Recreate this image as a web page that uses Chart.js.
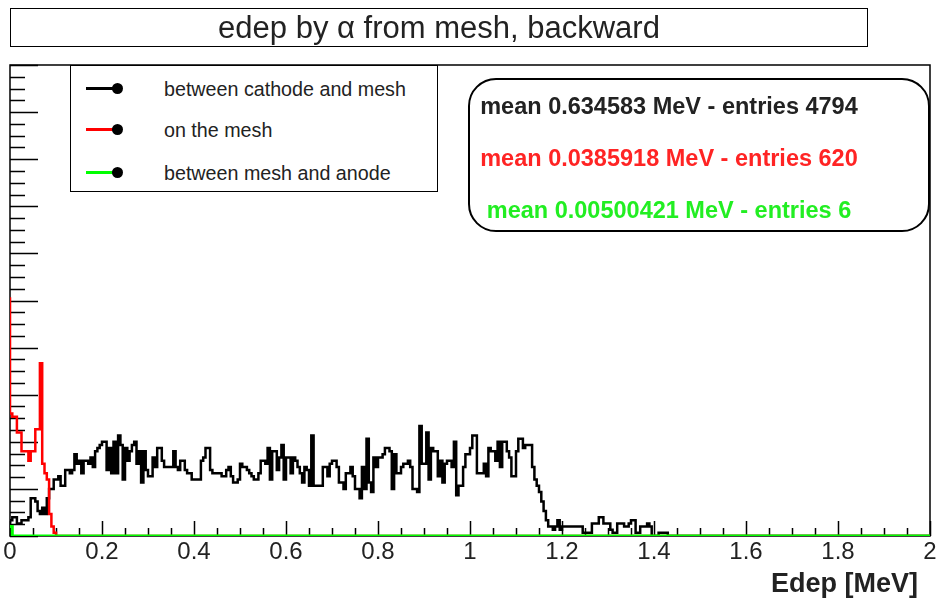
<!DOCTYPE html>
<html>
<head>
<meta charset="utf-8">
<script src="https://cdn.jsdelivr.net/npm/chart.js@4"></script>
<style>
  body { margin: 0; background: #fff; }
  #wrap { position: relative; width: 939px; height: 600px; font-family: "Liberation Sans", Arial, Helvetica, sans-serif; }
  canvas { position: absolute; left: 0; top: 0; }
  .titlebox { position: absolute; left: 10px; top: 8px; width: 856px; height: 37px; border: 1px solid #000;
    text-align: center; line-height: 37px; font-size: 31px; color: #222; }
  .legend { position: absolute; left: 70px; top: 65px; width: 366px; height: 125px; border: 1.5px solid #000; background: #fff; }
  .legend .row { position: absolute; left: 0; height: 20px; width: 100%; }
  .legend .ln { position: absolute; left: 15px; top: 8px; width: 32px; height: 3px; }
  .legend .mk { position: absolute; left: 41px; top: 4px; width: 11px; height: 11px; border-radius: 50%; background: #000; }
  .legend .tx { position: absolute; left: 93px; top: 0; line-height: 20px; font-size: 19.7px; color: #222; white-space: nowrap; }
  .stats { position: absolute; left: 468px; top: 78px; width: 458px; height: 150px; border: 2px solid #000; border-radius: 28px; background: #fff; }
  .stats .tx { position: absolute; left: 0; width: 398px; text-align: center; line-height: 52px; font-size: 23.5px; font-weight: bold; white-space: nowrap; }
  .xtitle { position: absolute; right: 21px; top: 568px; line-height: 30px; font-size: 27px; font-weight: bold; color: #222; }
</style>
</head>
<body>
<div id="wrap">
  <canvas id="c" width="939" height="600"></canvas>
  <div class="titlebox" id="title"></div>
  <div class="legend" id="legend"></div>
  <div class="stats" id="stats"></div>
  <div class="xtitle" id="xtitle"></div>
</div>
<script>
// ---- histogram setup: 400 bins of 0.005 MeV from 0 to 2 MeV
const binWidth = 0.005;
const nBins = 400;

// counts per bin (bins past the end of each list are empty)
const cathodeMesh = [
  4, 5, 6, 6, 4, 4, 5, 5, 5, 6, 12, 12, 11, 8, 7, 9, 7, 12, 15, 15,
  18, 18, 19, 16, 16, 21, 21, 20, 21, 26, 23, 24, 20, 24, 24, 23, 25, 22, 27, 28,
  29, 30,
  30, 21, 28, 20, 30, 20, 32, 29, 18, 28, 24, 27, 29, 30, 23, 27, 17, 27, 21, 19,
  19, 25, 22, 28, 28, 24, 22, 22, 22, 22, 27, 22, 21, 24, 24, 21, 20, 20, 18, 18,
  18, 18, 24, 25, 28, 28, 21, 20, 20, 20,
  20, 19, 19, 21, 22, 19, 17, 17, 18, 23, 22, 22, 21, 20, 19, 18, 18, 20, 24, 24,
  23, 28, 18, 27, 27, 21, 25, 29, 18, 25, 25, 20, 25, 24, 22, 20, 17, 22, 21, 16,
  32, 16, 16, 16, 16, 22, 22,
  19, 23, 24, 24, 22, 17, 17, 15, 20, 20, 22, 19, 15, 15, 12, 22, 15, 31, 17, 14,
  25, 22, 25, 25, 26, 28, 28, 27, 15, 26, 20, 20, 22, 23, 23, 24, 22, 15, 15, 14,
  35, 23, 23, 33, 18, 28, 27,
  27, 19, 24, 17, 23, 24, 24, 22, 30, 13, 16, 16, 22, 26, 26, 28, 32, 32, 20, 20,
  20, 23, 19, 28, 27, 27, 24, 30, 22, 30, 30, 27, 25, 19, 19, 27, 31, 31, 28, 29,
  29, 29, 22, 18, 16, 14, 11, 8, 5,
  3, 3, 2, 3, 5, 2, 3, 3, 3, 3, 3, 3, 3, 3, 3, 1, 1, 1, 1, 4,
  4, 4, 6, 6, 4, 4, 4, 2, 1, 1, 4, 4, 4, 3, 3, 4, 5, 5, 1, 1,
  3, 3, 3, 4, 3, 0, 0, 0, 1, 1, 1, 1
];
const onMesh = [76, 39, 38, 38, 33, 33, 27, 27, 27, 24, 27, 27, 34, 34, 55, 23, 20, 18, 7, 3, 1];
const meshAnode = [3, 3];

const seriesNames = ["between cathode and mesh", "on the mesh", "between mesh and anode"];
const seriesColors = ["#000000", "#ff0000", "#00ff00"];
const statsText = [
  "mean 0.634583 MeV - entries 4794",
  "mean 0.0385918 MeV - entries 620",
  "mean 0.00500421 MeV - entries 6"
];
const statsColors = ["#222222", "#ff2424", "#22ee22"];

const titleText = "edep by \u03b1 from mesh, backward";
const xTitle = "Edep [MeV]";
const xMin = 0, xMax = 2, xMajor = 0.2, xMinor = 0.05;
const yMax = 150, yMajor = 15, yMinorPerMajor = 4;

function histPoints(counts) {
  const pts = [];
  for (let i = 0; i < nBins; i++) pts.push({ x: i * binWidth, y: counts[i] || 0 });
  pts.push({ x: nBins * binWidth, y: counts[nBins - 1] || 0 });
  return pts;
}

// ROOT-style frame with inward ticks
const rootFrame = {
  id: "rootFrame",
  beforeDatasetsDraw(chart) {
    const { ctx, chartArea: a, scales: { x, y } } = chart;
    ctx.save();
    ctx.strokeStyle = "#000";
    ctx.lineWidth = 1.5;
    ctx.beginPath();
    const nx = Math.round((xMax - xMin) / xMinor);
    const perX = Math.round(xMajor / xMinor);
    for (let k = 0; k <= nx; k++) {
      const px = Math.round(x.getPixelForValue(xMin + k * xMinor)) + 0.5;
      const len = k % perX === 0 ? 15 : 8;
      ctx.moveTo(px, a.bottom); ctx.lineTo(px, a.bottom - len);
    }
    const ny = Math.round(yMax / yMajor) * yMinorPerMajor;
    for (let k = 0; k <= ny; k++) {
      const py = Math.round(y.getPixelForValue(k * yMajor / yMinorPerMajor)) + 0.5;
      const len = k % yMinorPerMajor === 0 ? 28 : 15;
      ctx.moveTo(a.left, py); ctx.lineTo(a.left + len, py);
    }
    ctx.stroke();
    ctx.strokeRect(a.left, a.top, a.right - a.left, a.bottom - a.top);
    ctx.restore();
  }
};

const datasets = [cathodeMesh, onMesh, meshAnode].map((counts, i) => ({
  label: seriesNames[i],
  data: histPoints(counts),
  borderColor: seriesColors[i],
  backgroundColor: seriesColors[i],
  borderWidth: i === 2 ? 3 : 2.5,
  stepped: "after",
  pointRadius: 0,
  fill: false,
  order: 3 - i
}));

new Chart(document.getElementById("c").getContext("2d"), {
  type: "line",
  data: { datasets },
  options: {
    responsive: false, animation: false, devicePixelRatio: 1,
    layout: { padding: { left: 10, right: 9, top: 65, bottom: 0 } },
    plugins: { legend: { display: false }, tooltip: { enabled: false }, title: { display: false } },
    scales: {
      x: {
        type: "linear", min: xMin, max: xMax,
        grid: { display: false, drawTicks: false },
        border: { display: false },
        ticks: {
          stepSize: xMajor, autoSkip: false, maxRotation: 0, padding: 2, color: "#222",
          font: { family: "'Liberation Sans', Arial, sans-serif", size: 24 },
          callback: (v) => String(Number(v.toFixed(1)))
        },
        afterFit: (s) => { s.height = 64; }
      },
      y: { min: 0, max: yMax, display: false }
    }
  },
  plugins: [rootFrame]
});

// overlays: title, legend, stats box, axis title
document.getElementById("title").textContent = titleText;
document.getElementById("xtitle").textContent = xTitle;

const legendRowsY = [13, 54, 97];
const legend = document.getElementById("legend");
seriesNames.forEach((name, i) => {
  const row = document.createElement("div");
  row.className = "row";
  row.style.top = legendRowsY[i] + "px";
  row.innerHTML = '<div class="ln" style="background:' + seriesColors[i] + '"></div><div class="mk"></div><div class="tx"></div>';
  row.querySelector(".tx").textContent = name;
  legend.appendChild(row);
});

const stats = document.getElementById("stats");
statsText.forEach((t, i) => {
  const d = document.createElement("div");
  d.className = "tx";
  d.style.top = (i * 52) + "px";
  d.style.color = statsColors[i];
  d.textContent = t;
  stats.appendChild(d);
});
</script>
</body>
</html>
